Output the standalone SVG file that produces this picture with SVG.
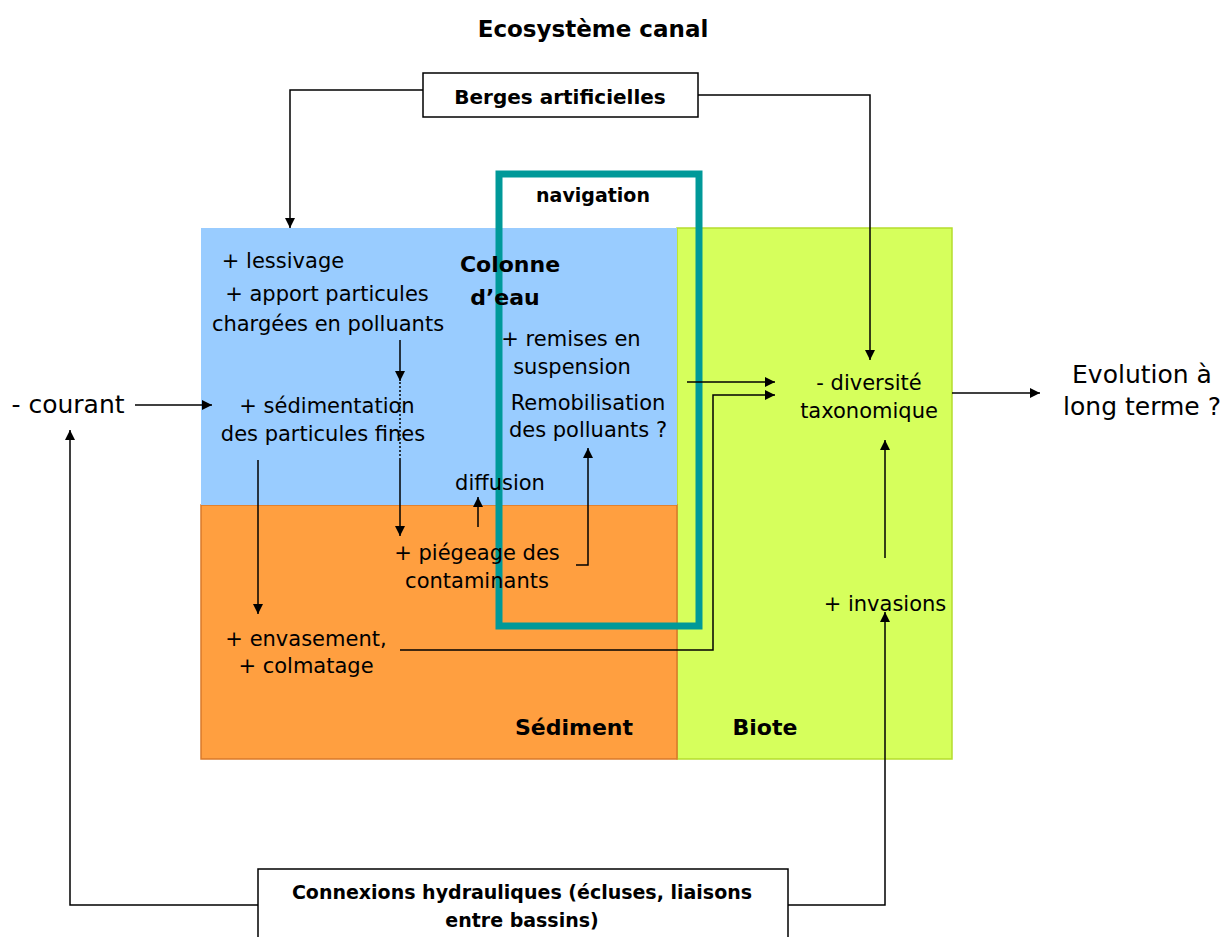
<svg xmlns="http://www.w3.org/2000/svg" width="1232" height="937" viewBox="0 0 1232 937">
<defs>
<marker id="ah" viewBox="0 0 10 10" refX="10" refY="5" markerWidth="10" markerHeight="10" markerUnits="userSpaceOnUse" orient="auto"><path d="M0,0 L10,5 L0,10 Z" fill="#000"/></marker>
<style>
text{font-family:"DejaVu Sans","Liberation Sans",sans-serif;fill:#000;text-anchor:middle}
.t{font-size:21px}
.b{font-weight:bold;font-size:19px}
.bl{font-weight:bold;font-size:22px}
.big{font-size:25px}
.c{fill:none;stroke:#000;stroke-width:1.5}
.a{fill:none;stroke:#000;stroke-width:1.5;marker-end:url(#ah)}
</style>
</defs>
<rect width="1232" height="937" fill="#fff"/>
<text x="593" y="37" style="font-weight:bold;font-size:23px">Ecosystème canal</text>
<g id="zones">
<rect x="677" y="228" width="275" height="531" fill="#d6ff5c" stroke="#b5dd2e" stroke-width="1.5"/>
<rect x="201" y="505" width="476" height="254" fill="#ff9f40" stroke="#d9792a" stroke-width="1.5"/>
<rect x="201" y="228" width="476" height="277" fill="#99ccff"/>
</g>
<g id="navigation">
<rect x="499" y="174" width="200" height="452" fill="none" stroke="#009999" stroke-width="7"/>
<text x="593" y="202" class="b">navigation</text>
</g>
<g id="berges">
<rect x="423" y="73" width="275" height="44" fill="#fff" stroke="#000" stroke-width="1.5"/>
<text x="560" y="104" class="b" style="font-size:20px">Berges artificielles</text>
</g>
<g id="connexions">
<rect x="258" y="869" width="530" height="80" fill="#fff" stroke="#000" stroke-width="1.5"/>
<text x="522" y="899" class="b">Connexions hydrauliques (écluses, liaisons</text>
<text x="522" y="927" class="b">entre bassins)</text>
</g>
<g id="labels">
<text x="510" y="272" class="bl">Colonne</text>
<text x="505" y="305" class="bl">d’eau</text>
<text x="574" y="735" class="bl">Sédiment</text>
<text x="765" y="735" class="bl">Biote</text>
<text x="283" y="268" class="t">+ lessivage</text>
<text x="327" y="301" class="t">+ apport particules</text>
<text x="328" y="331" class="t">chargées en polluants</text>
<text x="327" y="413" class="t">+ sédimentation</text>
<text x="323" y="441" class="t">des particules fines</text>
<text x="571" y="346" class="t">+ remises en</text>
<text x="572" y="374" class="t">suspension</text>
<text x="588" y="410" class="t">Remobilisation</text>
<text x="588" y="437" class="t">des polluants ?</text>
<text x="500" y="490" class="t">diffusion</text>
<text x="477" y="560" class="t">+ piégeage des</text>
<text x="477" y="588" class="t">contaminants</text>
<text x="306" y="646" class="t">+ envasement,</text>
<text x="306" y="673" class="t">+ colmatage</text>
<text x="869" y="390" class="t">- diversité</text>
<text x="869" y="418" class="t">taxonomique</text>
<text x="885" y="611" class="t">+ invasions</text>
<text x="68" y="413" class="big">- courant</text>
<text x="1142" y="383" class="big">Evolution à</text>
<text x="1142" y="415" class="big">long terme ?</text>
</g>
<g id="connectors">
<polyline class="a" points="423,90 290,90 290,228"/>
<polyline class="a" points="698,95 870,95 870,360"/>
<line class="a" x1="135" y1="405" x2="212" y2="405"/>
<line class="a" x1="400" y1="340" x2="400" y2="381"/>
<line x1="400" y1="382" x2="400" y2="460" stroke="#000" stroke-width="1.5" stroke-dasharray="2,2"/>
<line class="a" x1="400" y1="460" x2="400" y2="536"/>
<line class="a" x1="258" y1="460" x2="258" y2="614"/>
<line class="a" x1="478" y1="527" x2="478" y2="497"/>
<polyline class="a" points="576,565 588,565 588,448"/>
<line class="a" x1="687" y1="382" x2="775" y2="382"/>
<polyline class="a" points="400,650 713,650 713,395 775,395"/>
<line class="a" x1="952" y1="393" x2="1040" y2="393"/>
<line class="a" x1="885" y1="558" x2="885" y2="440"/>
<polyline class="a" points="788,905 885,905 885,612"/>
<polyline class="a" points="258,905 70,905 70,430"/>
</g>
</svg>
